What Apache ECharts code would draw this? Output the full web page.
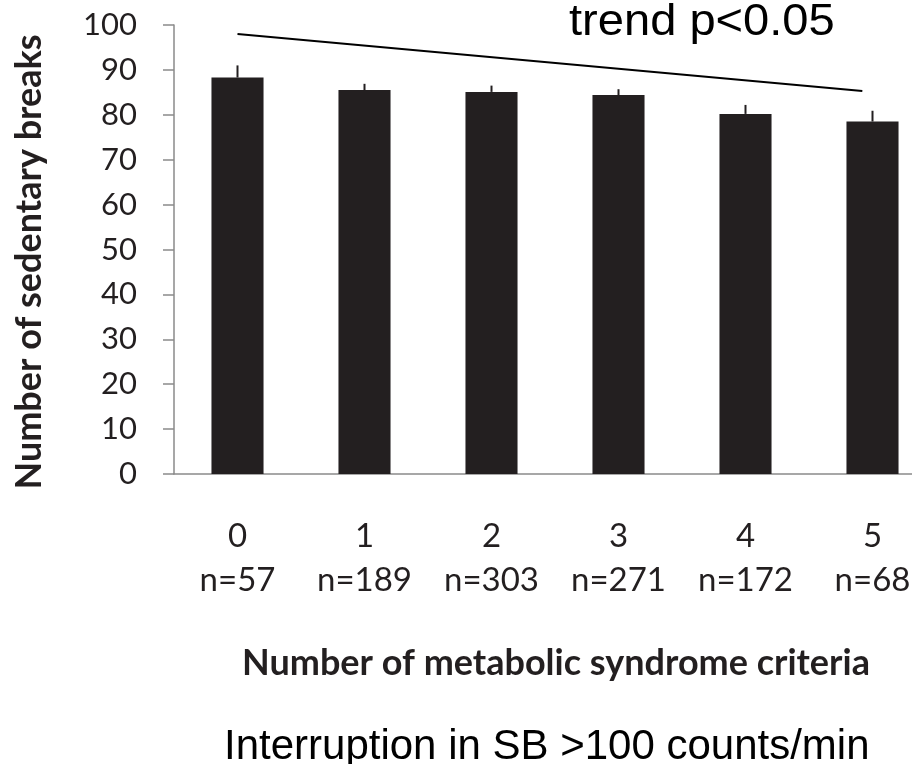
<!DOCTYPE html>
<html><head><meta charset="utf-8">
<script src="https://cdn.jsdelivr.net/npm/echarts@6/dist/echarts.min.js"></script>
<style>html,body{margin:0;padding:0;background:#fff}#c{width:912px;height:764px}</style>
</head><body><div id="c"></div>
<script>
const categories = ['0','1','2','3','4','5'];
const groupN = ['n=57','n=189','n=303','n=271','n=172','n=68'];
const means = [88.3, 85.5, 85.1, 84.4, 80.2, 78.5];
const errUpper = [91.0, 86.9, 86.5, 85.7, 82.2, 80.9];
const yTicks = [0,10,20,30,40,50,60,70,80,90,100];
const trendX = [0, 4.92];
const trendY = [98.0, 85.3];

const chart = echarts.init(document.getElementById('c'), null, {renderer:'canvas'});
const dark = '#231f20';
const axisGray = '#8a8a8a';
chart.setOption({
  animation: false,
  backgroundColor: '#fff',
  graphic: [
    {type: 'text', x: 569, y: 23, scaleX: 1.07, originX: 0, style: {text: 'trend p<0.05', fontFamily: 'Liberation Sans', fontSize: 44, fill: '#000', align: 'left', verticalAlign: 'middle'}},
    {type: 'text', x: 224, y: 747, style: {text: 'Interruption in SB >100 counts/min', fontFamily: 'Liberation Sans', fontSize: 42, fill: '#000', align: 'left', verticalAlign: 'middle'}},
    {type: 'text', x: 556, y: 663, style: {text: 'Number of metabolic syndrome criteria', fontFamily: 'Lato', fontWeight: 'bold', fontSize: 36, fill: dark, align: 'center', verticalAlign: 'middle'}},
    {type: 'text', x: 29, y: 262, rotation: Math.PI / 2, style: {text: 'Number of sedentary breaks', fontFamily: 'Lato', fontWeight: 'bold', fontSize: 36, fill: dark, align: 'center', verticalAlign: 'middle'}}
  ],
  grid: {left: 174, top: 25, width: 762, height: 449, outerBoundsMode: 'none'},
  xAxis: [{
    type: 'category', data: categories,
    axisLine: {lineStyle: {color: axisGray, width: 1.5}},
    axisTick: {length: 14, lineStyle: {color: axisGray, width: 1.5}},
    axisLabel: {
      margin: 40, color: dark, fontFamily: 'Lato', fontSize: 33, lineHeight: 44,
      formatter: (v, i) => v + '\n' + groupN[i]
    }
  }, {
    type: 'value', min: -0.5, max: 5.5, show: false, axisLine: {onZero: false}
  }],
  yAxis: {
    type: 'value', min: 0, max: 100, interval: 10,
    splitLine: {show: false},
    axisLine: {show: true, onZero: false, lineStyle: {color: axisGray, width: 1.5}},
    axisTick: {show: true, length: 11, lineStyle: {color: axisGray, width: 1.5}},
    axisLabel: {margin: 37, color: dark, fontFamily: 'Lato', fontSize: 31,
      formatter: v => yTicks.includes(v) ? String(v) : ''}
  },
  series: [
    {type: 'bar', data: means, barWidth: '41%', itemStyle: {color: dark}, z: 2},
    {type: 'custom', z: 3,
      data: categories.map((c, i) => [i, means[i], errUpper[i]]),
      renderItem: (params, api) => {
        const p0 = api.coord([api.value(0), api.value(1)]);
        const p1 = api.coord([api.value(0), api.value(2)]);
        return {type: 'line', shape: {x1: p0[0], y1: p0[1], x2: p1[0], y2: p1[1]}, style: {stroke: dark, lineWidth: 2}};
      }
    },
    {type: 'line', xAxisIndex: 1, data: trendX.map((x, i) => [x, trendY[i]]), symbol: 'none',
      lineStyle: {color: '#000', width: 2}, z: 4}
  ]
});
</script></body></html>
